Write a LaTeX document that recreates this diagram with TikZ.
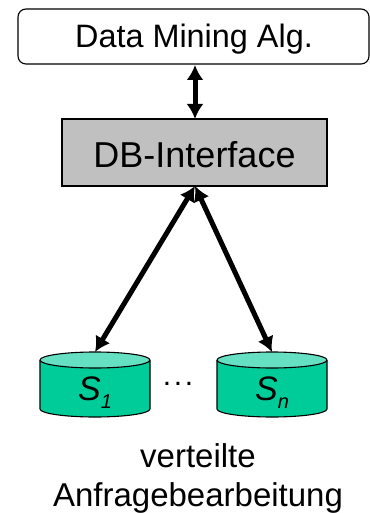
\documentclass[tikz,border=0pt]{standalone}
\usepackage{fontspec}
\setmainfont{Liberation Sans}
\usetikzlibrary{arrows.meta}
\definecolor{cylbody}{HTML}{00CC99}
\definecolor{cyltop}{HTML}{66E0C2}
\definecolor{boxgray}{HTML}{C0C0C0}
\tikzset{
  lbl/.style={inner sep=0pt,text=black,anchor=base},
  link/.style={line width=5pt,{Latex[length=15pt,width=17pt]}-{Latex[length=15pt,width=17pt]}},
  cylline/.style={line width=1.1pt,draw=black,line join=round},
}
\newcommand{\subtxt}[1]{\raisebox{-8pt}{\fontsize{20}{20}\selectfont #1}}
\begin{document}
\begin{tikzpicture}[x=1pt,y=-1pt]
\useasboundingbox (0,0) rectangle (369,513);
\node[draw=black,line width=1.1pt,rounded corners=8pt,minimum width=351pt,minimum height=55pt,inner sep=0pt] (alg) at (193.5,36.5) {};
\node[lbl,font=\fontsize{32.4}{38}\selectfont] (algt) at (194,48) {Data Mining Alg.};
\node[draw=black,fill=boxgray,line width=1.1pt,minimum width=265pt,minimum height=67pt,inner sep=0pt] (db) at (194.5,152.5) {};
\node[lbl,font=\fontsize{36}{42}\selectfont] (dbt) at (194.5,167) {DB-Interface};
% cylinders
\path[fill=cylbody] (40,360) -- (40,409) arc[start angle=180,end angle=360,x radius=55,y radius=-8] -- (150,360) -- cycle;
\draw[cylline] (40,360) -- (40,409) arc[start angle=180,end angle=360,x radius=55,y radius=-8] -- (150,360);
\draw[cylline,fill=cyltop] (95,360) ellipse[x radius=55,y radius=8];
\coordinate (s1top) at (95,352);
\node[lbl,font=\fontsize{34}{38}\selectfont\itshape] (s1) at (95,400) {S\subtxt{1}};
\path[fill=cylbody] (217,360) -- (217,409) arc[start angle=180,end angle=360,x radius=55,y radius=-8] -- (327,360) -- cycle;
\draw[cylline] (217,360) -- (217,409) arc[start angle=180,end angle=360,x radius=55,y radius=-8] -- (327,360);
\draw[cylline,fill=cyltop] (272,360) ellipse[x radius=55,y radius=8];
\coordinate (sntop) at (272,352);
\node[lbl,font=\fontsize{34}{38}\selectfont\itshape] (sn) at (272,400) {S\subtxt{n}};
\node[lbl,font=\fontsize{30}{38}\selectfont] (dots) at (178,385) {.\kern2.6pt.\kern2.6pt.};
\coordinate (dbb) at (195,186);
\coordinate (dbtop) at (195,119);
\coordinate (algb) at (195,65);
\draw[link] (algb) -- (dbtop);
\draw[link] (dbb) -- (s1top);
\draw[link] (dbb) -- (sntop);
\node[lbl,font=\fontsize{33}{39}\selectfont] (t1) at (198,467) {verteilte};
\node[lbl,font=\fontsize{33}{39}\selectfont] (t2) at (198,506) {Anfragebearbeitung};
\end{tikzpicture}
\end{document}
